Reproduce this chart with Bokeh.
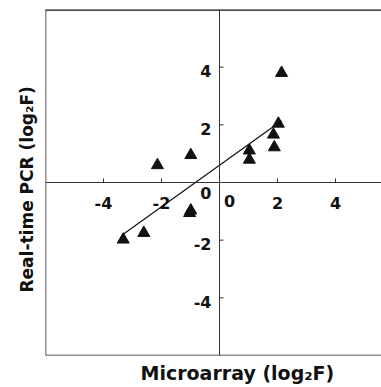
import numpy as np
from bokeh.plotting import figure
from bokeh.models import Range1d, Span, Title
from bokeh.core.properties import value
from bokeh.embed import file_html
from bokeh.resources import INLINE

# --- data ---
microarray = [2.14, 2.03, 1.86, 1.89, 1.03, 1.03, -0.99, -2.14, -0.99, -1.03, -2.61, -3.32]
pcr = [3.80, 2.04, 1.66, 1.22, 1.11, 0.79, 0.95, 0.60, -0.97, -1.06, -1.75, -1.98]

x_ticks = [-4, -2, 0, 2, 4]
x_tick_labels = ["-4", "-2", "0", "2", "4"]
y_ticks = [4, 2, 0, -2, -4]
y_tick_labels = ["4", "2", "0", "-2", "-4"]

x_title = "Microarray (log\u2082F)"
y_title = "Real-time PCR (log\u2082F)"

# --- layout ---
W, H = 381, 387
LEFT, TOP, BOTTOM = 45, 9, 31
frame_w = W - LEFT
px_per_unit = 29.0
x_start = -6.0
x_end = x_start + frame_w / px_per_unit
y_start, y_end = -6.0, 6.0
frame_h = H - TOP - BOTTOM
py_per_unit = frame_h / (y_end - y_start)

FONT = "DejaVu Sans"

p = figure(width=W, height=H,
           x_range=Range1d(x_start, x_end), y_range=Range1d(y_start, y_end),
           x_axis_type=None, y_axis_type=None,
           toolbar_location=None, output_backend="svg",
           min_border_left=LEFT, min_border_right=0,
           min_border_top=TOP, min_border_bottom=BOTTOM)
p.outline_line_color = None
p.background_fill_color = "white"
p.border_fill_color = "white"

# axis titles
p.add_layout(Title(text=x_title, align="left", offset=95, standoff=8,
                   text_font=FONT, text_font_style="bold", text_font_size="19px",
                   text_color="#111111"), "below")
p.add_layout(Title(text=y_title, align="left", offset=63, standoff=18,
                   text_font=FONT, text_font_style="bold", text_font_size="17px",
                   text_color="#111111"), "left")

# frame borders (left, top, bottom; right side is cut off in the reference)
p.add_layout(Span(location=x_start, dimension="height", line_color="#222222", line_width=1.5))
p.add_layout(Span(location=y_end, dimension="width", line_color="#111111", line_width=2.5))
p.add_layout(Span(location=y_start, dimension="width", line_color="#222222", line_width=1.5))

# crossing axes at zero
p.add_layout(Span(location=0, dimension="height", line_color="#333333", line_width=1))
p.add_layout(Span(location=0, dimension="width", line_color="#333333", line_width=1))

# tick marks
tick_px = 4
tx = [t for t in x_ticks if t != 0]
p.segment(x0=tx, y0=[0] * len(tx), x1=tx, y1=[tick_px / py_per_unit] * len(tx),
          line_color="#333333", line_width=1)
ty = [t for t in y_ticks if t != 0]
p.segment(x0=[0] * len(ty), y0=ty, x1=[tick_px / px_per_unit] * len(ty), y1=ty,
          line_color="#333333", line_width=1)

# tick labels
p.text(x=x_ticks, y=[0] * len(x_ticks), text=x_tick_labels,
       x_offset=[10 if t == 0 else 0 for t in x_ticks],
       y_offset=[18 if t == 0 else 20 for t in x_ticks],
       text_align="center", text_baseline="middle",
       text_font=value(FONT), text_font_style="bold", text_font_size="16px",
       text_color="#111111")
p.text(x=[0] * len(y_ticks), y=y_ticks, text=y_tick_labels,
       x_offset=-8, y_offset=[10 if t == 0 else 4 for t in y_ticks],
       text_align="right", text_baseline="middle",
       text_font=value(FONT), text_font_style="bold", text_font_size="16px",
       text_color="#111111")

# regression line
slope, intercept = np.polyfit(microarray, pcr, 1)
lx = [min(microarray), max(microarray)]
ly = [slope * v + intercept for v in lx]
p.line(lx, ly, line_color="#111111", line_width=1.2)

# data points
p.scatter(microarray, pcr, marker="triangle", size=12,
          fill_color="#111111", line_color="#111111")

open("out.html", "w").write(file_html(p, INLINE))
